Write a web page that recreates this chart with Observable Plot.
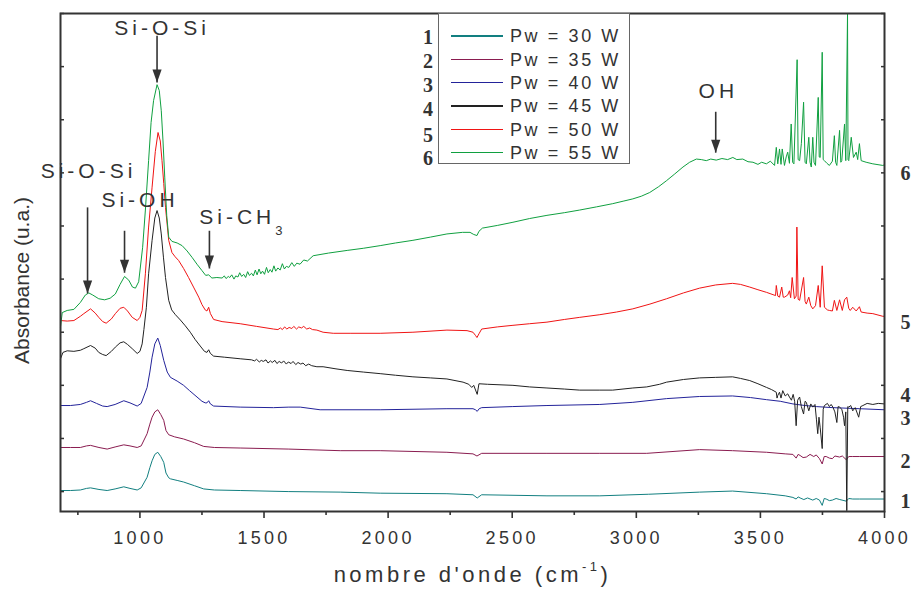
<!DOCTYPE html>
<html><head><meta charset="utf-8">
<script src="https://cdn.jsdelivr.net/npm/d3@7"></script>
<script src="https://cdn.jsdelivr.net/npm/@observablehq/plot@0.6"></script>
<style>
body{margin:0;background:#fff;}
#wrap{position:relative;width:911px;height:591px;overflow:hidden;font-family:"Liberation Sans",Arial,sans-serif;}
#legend{position:absolute;left:438px;top:13px;width:192px;height:151px;border:1px solid #666;box-sizing:border-box;background:#fff;}
.sw{position:absolute;left:451px;width:52px;height:1.5px;}
.lt{position:absolute;left:510px;font-size:18px;letter-spacing:2.6px;color:#333;line-height:18px;white-space:nowrap;}
.num{position:absolute;font-family:"Liberation Serif","DejaVu Serif",serif;font-weight:bold;font-size:20px;color:#333;line-height:20px;text-align:right;}
</style></head>
<body><div id="wrap"></div>
<script>
// ---- data ----
const seriesNames = ["Pw = 30 W","Pw = 35 W","Pw = 40 W","Pw = 45 W","Pw = 50 W","Pw = 55 W"];
const seriesNumbers = ["1","2","3","4","5","6"];
const seriesColors = ["#127f80","#8a1c50","#23239a","#222222","#f01414","#10a040"];
const majorTicks = [1000,1500,2000,2500,3000,3500,4000];
const minorTicks = [750,1250,1750,2250,2750,3250,3750];
const yTicks = [0,1,2,3,4,5,6,7,8,9];

const s1 = [[680,0.02],[720,0.02],[760,0.03],[785,0.06],[801,0.07],[835,0.04],[868,0.02],[900,0.05],[935,0.09],[960,0.06],[989,0.03],[1005,0.07],[1029,0.27],[1040,0.45],[1049,0.58],[1060,0.70],[1072,0.74],[1084,0.66],[1096,0.55],[1105,0.35],[1116,0.26],[1123,0.24],[1150,0.21],[1176,0.18],[1220,0.11],[1257,0.05],[1300,0.03],[1404,0.02],[1600,0.00],[1807,-0.01],[1968,-0.03],[2237,-0.04],[2342,-0.06],[2359,-0.12],[2377,-0.06],[2640,-0.08],[2853,-0.08],[3050,-0.05],[3255,-0.01],[3388,0.01],[3525,-0.04],[3600,-0.08],[3631,-0.11],[3644,-0.14],[3652,-0.10],[3660,-0.12],[3675,-0.15],[3690,-0.12],[3711,-0.16],[3725,-0.13],[3738,-0.16],[3749,-0.26],[3757,-0.13],[3765,-0.14],[3778,-0.17],[3790,-0.16],[3805,-0.13],[3820,-0.15],[3846,-0.18],[3856,-0.13],[3872,-0.14],[3900,-0.14],[4000,-0.14]];

const s2 = [[680,0.83],[720,0.83],[760,0.83],[785,0.86],[801,0.87],[835,0.83],[868,0.80],[900,0.84],[935,0.88],[960,0.86],[989,0.83],[1005,0.86],[1029,1.09],[1040,1.27],[1049,1.40],[1060,1.50],[1072,1.54],[1084,1.45],[1096,1.34],[1105,1.15],[1116,1.07],[1140,1.03],[1176,0.99],[1220,0.92],[1257,0.85],[1300,0.83],[1404,0.82],[1600,0.80],[1807,0.77],[1968,0.77],[2237,0.74],[2342,0.71],[2358,0.67],[2377,0.72],[2640,0.72],[2853,0.72],[3042,0.72],[3255,0.79],[3388,0.77],[3525,0.74],[3600,0.71],[3631,0.70],[3644,0.63],[3652,0.70],[3660,0.68],[3672,0.64],[3685,0.65],[3700,0.70],[3715,0.66],[3725,0.69],[3738,0.62],[3749,0.52],[3757,0.66],[3765,0.66],[3778,0.63],[3790,0.62],[3800,0.67],[3819,0.65],[3830,0.67],[3846,0.60],[3856,0.66],[3872,0.66],[3900,0.66],[4000,0.66]];

const s3 = [[680,1.62],[720,1.62],[760,1.64],[785,1.68],[801,1.71],[825,1.66],[850,1.61],[868,1.60],[900,1.64],[935,1.71],[960,1.67],[989,1.61],[1005,1.66],[1029,1.96],[1040,2.25],[1049,2.53],[1060,2.78],[1072,2.89],[1082,2.75],[1096,2.47],[1110,2.25],[1123,2.15],[1150,2.08],[1176,2.00],[1200,1.90],[1230,1.78],[1250,1.70],[1263,1.67],[1270,1.67],[1277,1.71],[1284,1.65],[1297,1.61],[1404,1.59],[1538,1.58],[1600,1.59],[1646,1.59],[1726,1.54],[1968,1.54],[2237,1.56],[2342,1.56],[2352,1.54],[2359,1.51],[2367,1.56],[2377,1.58],[2500,1.60],[2640,1.62],[2853,1.64],[2986,1.68],[3122,1.75],[3255,1.79],[3388,1.80],[3460,1.77],[3525,1.73],[3580,1.70],[3631,1.65],[3680,1.62],[3725,1.60],[3792,1.58],[3900,1.56],[4000,1.54]];

const s4 = [[680,2.50],[690,2.62],[707,2.65],[734,2.64],[760,2.66],[774,2.69],[801,2.75],[820,2.70],[834,2.62],[850,2.58],[864,2.56],[885,2.64],[901,2.72],[920,2.80],[935,2.82],[950,2.77],[969,2.69],[989,2.60],[1000,2.64],[1009,2.78],[1016,3.05],[1026,3.47],[1035,4.10],[1049,4.73],[1060,5.15],[1069,5.29],[1078,5.15],[1086,4.85],[1095,4.40],[1103,4.03],[1116,3.60],[1128,3.42],[1143,3.33],[1163,3.23],[1183,3.12],[1203,3.00],[1223,2.86],[1243,2.74],[1260,2.64],[1270,2.62],[1277,2.67],[1284,2.60],[1297,2.55],[1340,2.53],[1404,2.50],[1450,2.48],[1462,2.46],[1470,2.49],[1481,2.44],[1489,2.47],[1497,2.45],[1508,2.48],[1516,2.42],[1526,2.46],[1533,2.43],[1544,2.47],[1552,2.41],[1561,2.45],[1571,2.42],[1579,2.46],[1590,2.40],[1598,2.44],[1609,2.41],[1617,2.45],[1628,2.39],[1637,2.43],[1648,2.40],[1657,2.42],[1668,2.37],[1680,2.40],[1692,2.37],[1713,2.35],[1738,2.35],[1790,2.31],[1835,2.28],[1900,2.25],[1968,2.22],[2030,2.19],[2100,2.16],[2170,2.14],[2237,2.12],[2302,2.06],[2325,2.02],[2337,1.96],[2345,2.00],[2359,1.83],[2366,2.03],[2400,2.02],[2503,2.00],[2570,1.97],[2640,1.95],[2710,1.93],[2772,1.91],[2853,1.91],[2905,1.91],[2986,1.95],[3042,1.97],[3094,2.02],[3122,2.06],[3190,2.11],[3255,2.14],[3320,2.15],[3388,2.16],[3420,2.13],[3457,2.09],[3490,2.03],[3525,1.96],[3545,1.92],[3564,1.87],[3567,1.76],[3570,1.81],[3577,1.87],[3583,1.76],[3590,1.90],[3600,1.80],[3610,1.84],[3617,1.78],[3625,1.72],[3632,1.83],[3638,1.70],[3644,1.24],[3650,1.72],[3658,1.78],[3665,1.60],[3674,1.46],[3680,1.70],[3685,1.68],[3695,1.52],[3703,1.65],[3711,1.59],[3720,1.64],[3726,1.35],[3731,1.09],[3736,1.40],[3741,1.20],[3749,0.81],[3753,1.55],[3758,1.62],[3770,1.66],[3778,1.60],[3785,1.64],[3792,1.59],[3800,1.50],[3808,1.30],[3813,1.60],[3819,1.59],[3828,1.55],[3835,1.40],[3839,1.24],[3844,1.50],[3848,-0.36],[3852,1.60],[3856,1.59],[3864,1.62],[3872,1.52],[3882,1.58],[3896,1.40],[3904,1.60],[3913,1.62],[3930,1.66],[3953,1.64],[3975,1.66],[4000,1.65]];

const s5 = [[680,3.22],[707,3.21],[734,3.22],[760,3.30],[774,3.35],[801,3.44],[820,3.36],[834,3.28],[850,3.20],[864,3.17],[885,3.25],[901,3.35],[920,3.45],[935,3.47],[950,3.40],[969,3.28],[989,3.22],[1000,3.28],[1009,3.41],[1022,4.10],[1035,4.98],[1049,5.73],[1062,6.40],[1073,6.76],[1082,6.60],[1089,6.23],[1096,5.80],[1103,5.35],[1116,4.73],[1129,4.50],[1142,4.42],[1156,4.35],[1176,4.20],[1196,4.03],[1216,3.85],[1237,3.66],[1250,3.52],[1263,3.42],[1270,3.40],[1277,3.47],[1284,3.35],[1297,3.24],[1331,3.20],[1404,3.16],[1470,3.11],[1538,3.06],[1556,3.05],[1566,3.08],[1574,3.05],[1583,3.10],[1592,3.06],[1601,3.09],[1612,3.07],[1620,3.11],[1631,3.06],[1640,3.10],[1651,3.08],[1660,3.11],[1672,3.06],[1684,3.08],[1695,3.05],[1713,3.04],[1738,3.00],[1779,2.98],[1850,2.98],[1968,2.98],[2100,3.00],[2237,3.04],[2318,3.03],[2342,3.00],[2352,2.94],[2358,2.90],[2366,2.97],[2377,3.06],[2440,3.10],[2503,3.13],[2570,3.16],[2640,3.19],[2710,3.24],[2772,3.28],[2853,3.33],[2920,3.38],[2986,3.44],[3055,3.53],[3122,3.63],[3190,3.74],[3255,3.83],[3320,3.89],[3388,3.92],[3420,3.90],[3457,3.85],[3490,3.80],[3525,3.75],[3561,3.69],[3564,3.88],[3570,3.68],[3577,3.66],[3586,3.85],[3592,3.66],[3597,3.66],[3610,3.70],[3617,3.78],[3622,3.65],[3628,4.03],[3637,3.63],[3644,3.68],[3647,4.98],[3652,3.62],[3658,3.60],[3674,4.03],[3680,3.58],[3685,3.53],[3695,3.66],[3703,3.50],[3711,3.44],[3722,3.50],[3733,3.88],[3741,3.47],[3749,4.25],[3758,3.47],[3770,3.42],[3778,3.41],[3790,3.40],[3798,3.60],[3808,3.41],[3819,3.61],[3830,3.41],[3839,3.61],[3848,3.66],[3856,3.45],[3862,3.41],[3872,3.47],[3886,3.40],[3899,3.48],[3906,3.38],[3930,3.36],[3953,3.35],[3993,3.30],[4000,3.30]];

const s6 = [[680,3.10],[687,3.37],[707,3.41],[734,3.43],[760,3.56],[780,3.70],[794,3.74],[810,3.70],[834,3.63],[858,3.61],[880,3.64],[901,3.72],[920,3.90],[938,4.05],[955,3.98],[970,3.85],[982,3.83],[995,3.95],[1011,4.60],[1022,5.30],[1035,6.23],[1045,6.95],[1055,7.36],[1069,7.66],[1078,7.55],[1086,7.17],[1093,6.60],[1100,5.92],[1108,5.20],[1116,4.79],[1129,4.71],[1150,4.68],[1170,4.63],[1190,4.53],[1210,4.41],[1230,4.28],[1250,4.16],[1265,4.07],[1277,4.08],[1290,4.02],[1310,4.03],[1331,4.02],[1340,4.06],[1347,4.01],[1356,4.05],[1362,4.03],[1370,4.08],[1379,4.00],[1386,4.06],[1395,4.04],[1402,4.12],[1410,4.05],[1418,4.09],[1426,4.03],[1434,4.14],[1441,4.07],[1450,4.11],[1457,4.06],[1465,4.17],[1472,4.08],[1480,4.19],[1487,4.10],[1494,4.15],[1502,4.09],[1510,4.22],[1517,4.12],[1525,4.18],[1532,4.13],[1540,4.25],[1547,4.15],[1556,4.21],[1565,4.17],[1574,4.29],[1582,4.19],[1590,4.24],[1600,4.22],[1612,4.31],[1622,4.24],[1632,4.30],[1645,4.28],[1660,4.36],[1675,4.34],[1698,4.44],[1760,4.49],[1835,4.54],[1900,4.58],[1968,4.63],[2030,4.68],[2100,4.73],[2170,4.79],[2237,4.85],[2300,4.88],[2330,4.88],[2345,4.84],[2358,4.82],[2366,4.90],[2380,4.96],[2440,5.01],[2503,5.07],[2570,5.14],[2640,5.20],[2710,5.25],[2772,5.30],[2840,5.36],[2905,5.42],[2950,5.47],[2986,5.51],[3020,5.56],[3054,5.63],[3090,5.74],[3121,5.85],[3155,5.98],[3188,6.11],[3215,6.20],[3242,6.26],[3262,6.25],[3282,6.23],[3300,6.26],[3322,6.24],[3345,6.27],[3368,6.25],[3389,6.29],[3405,6.25],[3429,6.26],[3450,6.21],[3470,6.20],[3490,6.16],[3505,6.20],[3524,6.17],[3540,6.22],[3557,6.14],[3564,6.48],[3570,6.17],[3577,6.45],[3583,6.16],[3588,6.45],[3597,6.14],[3604,6.30],[3610,6.39],[3617,6.18],[3624,6.92],[3630,6.20],[3635,6.17],[3648,8.13],[3652,6.25],[3658,6.23],[3665,6.55],[3674,7.33],[3680,6.20],[3685,6.17],[3695,6.67],[3700,6.20],[3705,6.11],[3711,6.67],[3716,6.20],[3722,6.14],[3733,7.42],[3737,6.30],[3741,6.29],[3749,8.27],[3753,6.25],[3758,6.23],[3768,6.18],[3778,6.14],[3790,6.22],[3798,6.70],[3803,6.20],[3808,6.14],[3819,6.80],[3824,6.20],[3828,6.23],[3839,6.92],[3844,6.23],[3851,8.99],[3853,6.25],[3856,6.23],[3866,6.67],[3875,6.29],[3886,6.39],[3892,6.25],[3899,6.55],[3906,6.23],[3926,6.20],[3953,6.17],[3993,6.14],[4000,6.15]];

const spectra = [s1, s2, s3, s4, s5, s6];

// curve-end labels (number, y level in u.a.)
const endLabelY = [-0.19, 0.56, 1.37, 1.81, 3.19, 5.99];

// peak annotations (wavenumber of text start, level)
const annotations = [
  {label: "Si-O-Si", x: 897, y: 8.72},
  {label: "Si-O-Si", x: 600, y: 6.03},
  {label: "Si-OH", x: 845, y: 5.48},
  {label: "Si-CH3", x: 1239, y: 5.17},
  {label: "OH", x: 3251, y: 7.54}
];
const arrows = [
  {x: 1069, y1: 8.58, y2: 7.70},
  {x: 789, y1: 5.35, y2: 3.73},
  {x: 938, y1: 4.91, y2: 4.12},
  {x: 1280, y1: 4.91, y2: 4.20},
  {x: 3320, y1: 7.15, y2: 6.38}
];

// arrow head symbol: narrow triangle pointing down, tip at origin
const headDown = {draw(ctx) { ctx.moveTo(0, 0); ctx.lineTo(-4.6, -13); ctx.lineTo(4.6, -13); ctx.closePath(); }};

const ink = "#333";
const chart = Plot.plot({
  width: 911, height: 591,
  marginLeft: 60, marginRight: 27, marginTop: 13, marginBottom: 80,
  x: {domain: [680, 4000]},
  y: {domain: [-0.375, 9]},
  style: {fontFamily: "'Liberation Sans', Arial, sans-serif", background: "#fff", color: ink},
  marks: [
    ...spectra.map((s, i) => Plot.line(s, {x: d => d[0], y: d => d[1], stroke: seriesColors[i], strokeWidth: 1})),
    Plot.link(arrows, {x1: "x", x2: "x", y1: "y1", y2: "y2", stroke: ink, strokeWidth: 1.6}),
    Plot.dot(arrows, {x: "x", y: "y2", symbol: headDown, fill: ink, stroke: "none"}),
    Plot.text(annotations, {x: "x", y: "y", text: "label", textAnchor: "start", fontSize: 21, fill: ink}),
    Plot.text(seriesNumbers, {x: () => 4000, y: (d, i) => endLabelY[i], text: d => d, dx: 16, textAnchor: "start",
      fontSize: 20, fontWeight: "bold", fontFamily: "'Liberation Serif', 'DejaVu Serif', serif", fill: ink}),
    Plot.axisX({ticks: majorTicks, tickSize: 7, tickPadding: 13, fontSize: 18, tickFormat: d => String(d), label: null, color: ink, strokeWidth: 1.6}),
    Plot.axisX({ticks: minorTicks, tickSize: 4, tickFormat: () => "", label: null, color: ink, strokeWidth: 1.6}),
    Plot.axisY({anchor: "left", ticks: yTicks, tickSize: 4, dx: 4, tickFormat: () => "", label: null, color: ink, strokeWidth: 1.5}),
    Plot.axisY({anchor: "right", ticks: yTicks, tickSize: 4, dx: -4, tickFormat: () => "", label: null, color: ink, strokeWidth: 1.5}),
    Plot.frame({stroke: ink, strokeWidth: 2}),
    Plot.text(["Absorbance (u.a.)"], {text: d => d, frameAnchor: "left", textAnchor: "middle", lineAnchor: "middle", rotate: -90, dx: -38.7, dy: 18, fontSize: 21, fill: ink}),
    Plot.text(["nombre d'onde (cm-1)"], {text: d => d, frameAnchor: "bottom", textAnchor: "middle", dy: 70, fontSize: 22, fill: ink})
  ]
});

const wrap = document.getElementById("wrap");
wrap.appendChild(chart);

// typographic touches
const svg = d3.select(chart);
svg.selectAll('[aria-label="x-axis tick label"] text').style("letter-spacing", "3.3px");
const annoLabels = annotations.map(a => a.label);
svg.selectAll("text").each(function() {
  const t = this.textContent;
  const sel = d3.select(this);
  if (annoLabels.includes(t)) {
    sel.style("letter-spacing", "4px");
    if (t === "Si-CH3") {
      sel.text("Si-CH");
      sel.append("tspan").attr("dy", 11).attr("font-size", 13).text("3");
    }
  } else if (t.startsWith("nombre")) {
    sel.style("letter-spacing", "3.5px");
    sel.text("nombre d'onde (cm");
    sel.append("tspan").attr("dy", -11).attr("font-size", 13).text("-1");
    sel.append("tspan").attr("dy", 11).text(")");
  }
});

// legend (HTML overlay inside the plot frame)
const legend = document.createElement("div");
legend.id = "legend";
wrap.appendChild(legend);
const rowY = [36, 59.3, 82.7, 106, 129.3, 152.7];
const numY = [36.7, 60.8, 84.8, 109.2, 134.8, 157.5];
seriesNames.forEach((name, i) => {
  const sw = document.createElement("div");
  sw.className = "sw";
  sw.style.top = (rowY[i] - 0.75) + "px";
  sw.style.background = seriesColors[i];
  wrap.appendChild(sw);
  const lt = document.createElement("div");
  lt.className = "lt";
  lt.style.top = (rowY[i] - 8.7) + "px";
  lt.textContent = name;
  wrap.appendChild(lt);
  const nm = document.createElement("div");
  nm.className = "num";
  nm.style.right = (911 - 433) + "px";
  nm.style.top = (numY[i] - 10) + "px";
  nm.textContent = seriesNumbers[i];
  wrap.appendChild(nm);
});
</script>
</body></html>
